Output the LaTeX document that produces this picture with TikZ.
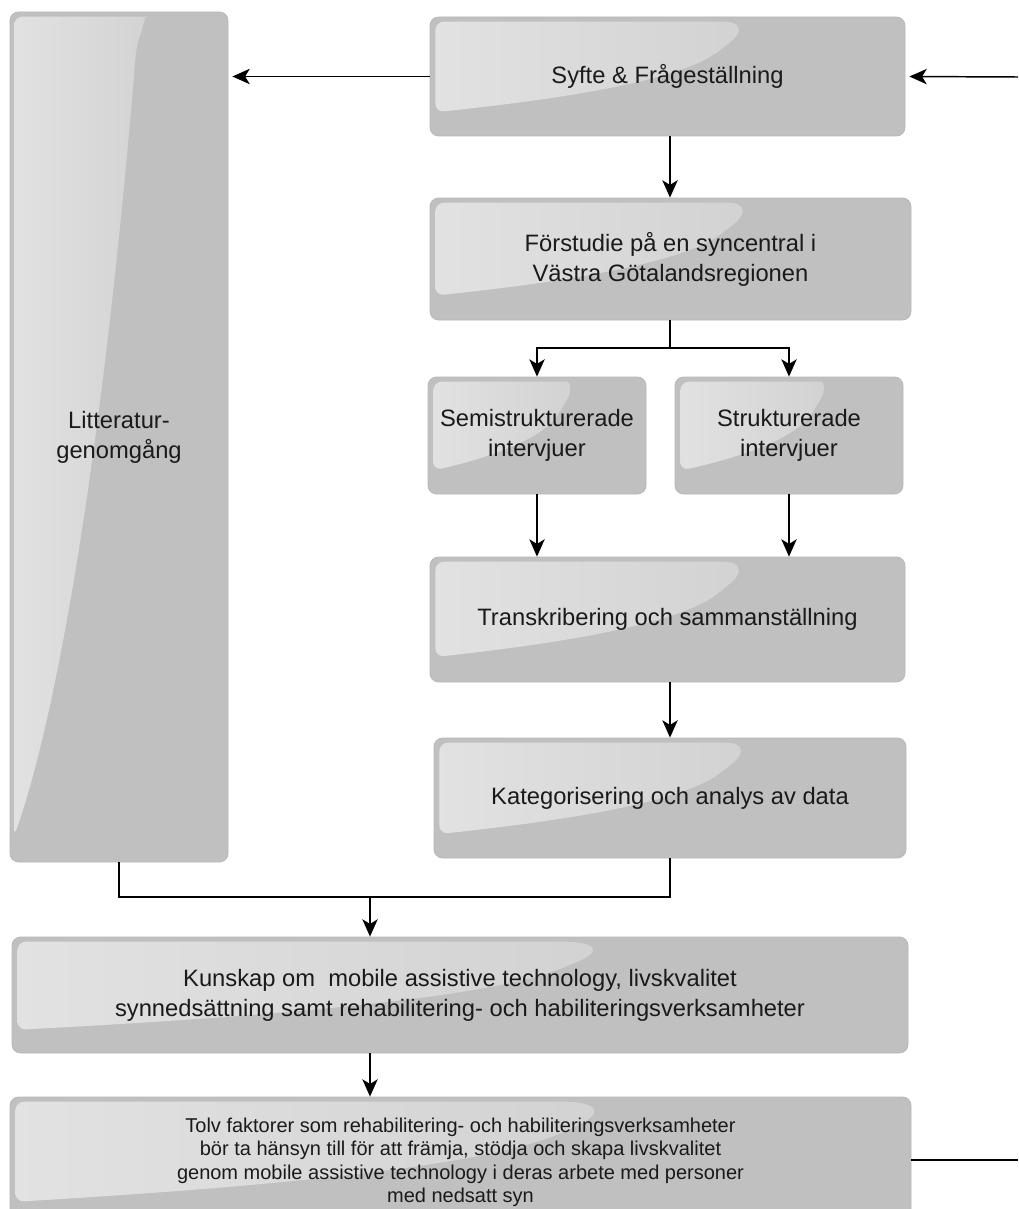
\documentclass[tikz,border=0pt]{standalone}
\usepackage{fontspec}
\setmainfont{Liberation Sans}
\usetikzlibrary{arrows.meta,calc}
\definecolor{boxgray}{HTML}{C0C0C0}
\definecolor{boxedge}{HTML}{B8B8B8}
\definecolor{hlL}{HTML}{E2E2E2}
\definecolor{hlR}{HTML}{CACACA}
\definecolor{txt}{HTML}{1A1A1A}
\tikzset{
  box/.style={rectangle, rounded corners=6.5pt, fill=boxgray, draw=boxedge,
    line width=0.6pt, inner sep=0pt, align=center, text=txt,
    font=\fontsize{17.8}{22.5}\selectfont},
  widegloss/.style={path picture={
    \fill[left color=hlL, right color=hlR, draw=none]
      let \p1=(path picture bounding box.north west),
          \p2=(path picture bounding box.south east) in
      ({\x1+4pt},{\y1-3.5pt}) -- ({0.40*\x1+0.60*\x2},{\y1-3.5pt})
      .. controls ({0.345*\x1+0.655*\x2},{\y1-3.5pt}) and ({0.34*\x1+0.66*\x2},{0.88*\y1+0.12*\y2})
      .. ({0.38*\x1+0.62*\x2},{0.75*\y1+0.25*\y2})
      .. controls ({0.48*\x1+0.52*\x2},{0.45*\y1+0.55*\y2}) and ({0.75*\x1+0.25*\x2},{0.30*\y1+0.70*\y2})
      .. ({\x1+4pt},{0.20*\y1+0.80*\y2}) -- cycle;
  }},
  tallgloss/.style={path picture={
    \fill[left color=hlL, right color=hlR, draw=none]
      let \p1=(path picture bounding box.north west),
          \p2=(path picture bounding box.south east) in
      ({\x1+3pt},{\y1-3.5pt}) -- ({0.41*\x1+0.59*\x2},{\y1-3.5pt})
      .. controls ({0.385*\x1+0.615*\x2},{\y1-3.5pt}) and ({0.38*\x1+0.62*\x2},{0.99*\y1+0.01*\y2})
      .. ({0.42*\x1+0.58*\x2},{0.96*\y1+0.04*\y2})
      .. controls ({0.55*\x1+0.45*\x2},{0.55*\y1+0.45*\y2}) and ({0.75*\x1+0.25*\x2},{0.20*\y1+0.80*\y2})
      .. ({\x1+3pt},{0.03*\y1+0.97*\y2}) -- cycle;
  }},
  arr/.style={-{Stealth[length=13pt,width=11.5pt,inset=3.5pt]}, line width=1.1pt, draw=black},
  ln/.style={line width=1.1pt, draw=black}
}
\begin{document}
\begin{tikzpicture}[x=0.75pt,y=-0.75pt]
\useasboundingbox (0,0) rectangle (1018,1209);
\clip (0,0) rectangle (1018,1209);
\fill[white] (0,0) rectangle (1018,1209);

\node[box, tallgloss, minimum width=218*0.75pt, minimum height=850*0.75pt] (lit) at (119,437) {Litteratur-\\genomgång};
\node[box, widegloss, minimum width=475*0.75pt, minimum height=119*0.75pt] (syfte) at (667.5,76.5) {Syfte \& Frågeställning};
\node[box, widegloss, minimum width=481*0.75pt, minimum height=122*0.75pt] (forst) at (670.5,259) {Förstudie på en syncentral i\\Västra Götalandsregionen};
\node[box, widegloss, minimum width=218*0.75pt, minimum height=117*0.75pt] (semi) at (537,435.5) {Semistrukturerade\\intervjuer};
\node[box, widegloss, minimum width=228*0.75pt, minimum height=117*0.75pt] (strukt) at (789,435.5) {Strukturerade\\intervjuer};
\node[box, widegloss, minimum width=475*0.75pt, minimum height=125*0.75pt] (trans) at (667.5,619.5) {Transkribering och sammanställning};
\node[box, widegloss, minimum width=472*0.75pt, minimum height=120*0.75pt] (kat) at (670,798) {Kategorisering och analys av data};
\node[box, widegloss, minimum width=896*0.75pt, minimum height=116*0.75pt] (kunskap) at (460,995) {Kunskap om\ \ mobile assistive technology, livskvalitet\\synnedsättning samt rehabilitering- och habiliteringsverksamheter};
\node[box, widegloss, minimum width=901*0.75pt, minimum height=131*0.75pt, font=\fontsize{15}{17.6}\selectfont] (tolv) at (460.5,1162.5) {Tolv faktorer som rehabilitering- och habiliteringsverksamheter\\bör ta hänsyn till för att främja, stödja och skapa livskvalitet\\genom mobile assistive technology i deras arbete med personer\\med nedsatt syn};

\coordinate (rin) at (1018,77);
\coordinate (rout) at (1018,1160);
\coordinate (split) at (670,348);
\coordinate (merge) at (370,897);

\draw[arr, shorten >=3pt] (syfte.west) -- (syfte.west -| lit.east);
\draw[arr, shorten >=3pt] (rin) -- (syfte.east);
\draw[arr] (split |- syfte.south) -- (split |- forst.north);
\draw[ln] (split |- forst.south) -- (split);
\draw[arr] (split) -| (semi.north);
\draw[arr] (split) -| (strukt.north);
\draw[arr] (semi.south) -- (semi.south |- trans.north);
\draw[arr] (strukt.south) -- (strukt.south |- trans.north);
\draw[arr] (kat.north |- trans.south) -- (kat.north);
\draw[ln] (lit.south) |- (merge) -| (kat.south);
\draw[arr] (merge) -- (merge |- kunskap.north);
\draw[arr] (merge |- kunskap.south) -- (merge |- tolv.north);
\draw[ln] (tolv.east |- rout) -- (rout);
\end{tikzpicture}
\end{document}
